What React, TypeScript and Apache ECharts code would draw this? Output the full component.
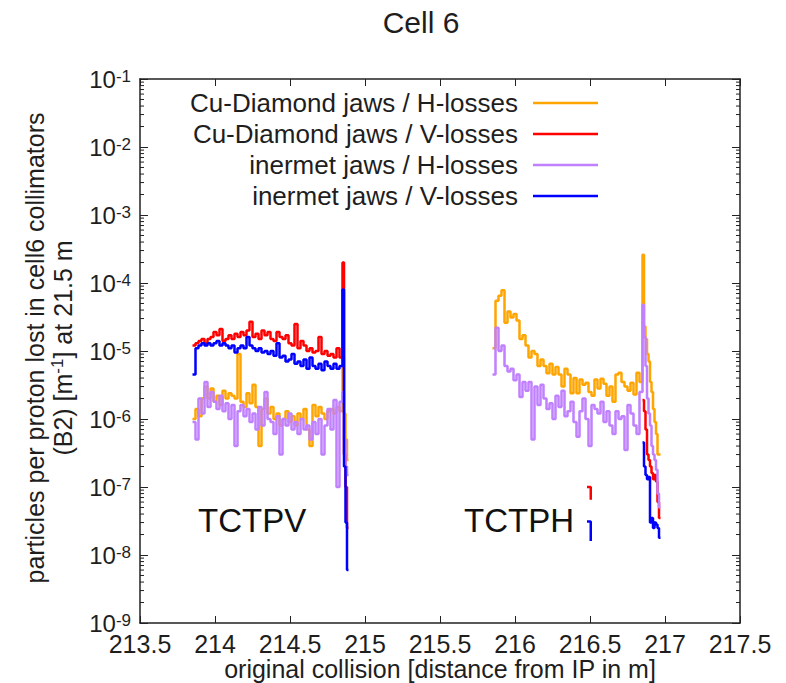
import React, { useEffect, useRef } from 'react';
import * as echarts from 'echarts';

// ---- Data ----
const SERIES_NAMES = [
  'Cu-Diamond jaws / H-losses',
  'Cu-Diamond jaws / V-losses',
  'inermet jaws / H-losses',
  'inermet jaws / V-losses',
];
const SERIES_COLORS = ['#ffa500', '#ff0000', '#c080ff', '#0000ff'];

const BIN = 0.02;
const TCTPV_START = 213.85;
const TCTPH_START = 215.85;
const TCTPV_TAIL_X = [214.85, 214.86, 214.87, 214.88];
const TCTPV_TAIL_END = 214.89;
const TCTPH_TAIL_X = [216.85, 216.86, 216.87, 216.88, 216.89, 216.9, 216.91, 216.92, 216.93, 216.94, 216.95, 216.96];
const TCTPH_TAIL_END = 216.97;
const STRAY_X = [216.48, 216.505];

const X_TICKS = [213.5, 214, 214.5, 215, 215.5, 216, 216.5, 217, 217.5];

// Cu-Diamond jaws / H-losses
const cuH_tctpv = [
  1.0e-6, 1.4e-6, 1.1e-6, 2.0e-6, 3.0e-6, 2.0e-6, 2.8e-6, 1.8e-6, 2.2e-6, 1.6e-6,
  2.6e-6, 2.0e-6, 2.4e-6, 2.2e-6, 2.0e-6, 9.0e-6, 1.8e-6, 1.5e-6, 2.4e-6, 1.7e-6,
  3.2e-6, 1.5e-6, 4.0e-7, 1.4e-6, 2.0e-6, 1.2e-6, 1.5e-6, 1.0e-6, 1.2e-6, 8.0e-7,
  1.0e-6, 1.3e-6, 9.0e-7, 1.1e-6, 8.0e-7, 1.2e-6, 1.0e-6, 1.4e-6, 7.0e-7, 4.0e-7,
  1.6e-6, 1.1e-6, 1.5e-6, 1.2e-6, 1.0e-6, 1.3e-6, 1.4e-6, 1.2e-6, 1.5e-6, 1.3e-6,
];
const cuH_tctpv_tail = [8.0e-6, 1.2e-6, 5.0e-7, 2.5e-7];
const cuH_tctph = [
  1.1e-5, 5.5e-5, 6.5e-5, 7.8e-5, 2.6e-5, 3.8e-5, 3.1e-5, 3.5e-5, 2.8e-5, 1.5e-5,
  1.7e-5, 1.2e-5, 8.0e-6, 1.0e-5, 9.0e-6, 6.0e-6, 7.5e-6, 6.0e-6, 4.7e-6, 6.5e-6,
  4.5e-6, 5.8e-6, 4.5e-6, 3.0e-6, 5.5e-6, 4.5e-6, 2.4e-6, 4.0e-6, 2.4e-6, 3.8e-6,
  3.2e-6, 3.4e-6, 2.5e-6, 2.2e-6, 3.8e-6, 2.8e-6, 3.9e-6, 3.3e-6, 2.2e-6, 3.0e-6,
  1.8e-6, 4.5e-6, 4.8e-6, 3.5e-6, 3.0e-6, 2.6e-6, 3.4e-6, 2.3e-6, 4.8e-6, 3.5e-6,
];
const cuH_tctph_tail = [2.6e-4, 2.3e-5, 1.5e-5, 9.0e-6, 7.0e-6, 3.5e-6, 2.5e-6, 1.4e-6, 9.0e-7, 6.0e-7, 3.0e-7, 3.0e-7];

// Cu-Diamond jaws / V-losses
const cuV_tctpv = [
  1.2e-5, 1.3e-5, 1.4e-5, 1.5e-5, 1.3e-5, 1.5e-5, 1.6e-5, 1.9e-5, 1.7e-5, 2.1e-5,
  1.4e-5, 1.5e-5, 1.7e-5, 1.5e-5, 1.8e-5, 1.6e-5, 1.9e-5, 1.7e-5, 2.0e-5, 2.7e-5,
  1.6e-5, 1.8e-5, 1.5e-5, 2.0e-5, 1.7e-5, 1.9e-5, 1.5e-5, 1.4e-5, 1.9e-5, 1.6e-5,
  1.5e-5, 1.7e-5, 1.3e-5, 1.2e-5, 2.5e-5, 1.1e-5, 1.4e-5, 1.2e-5, 1.0e-5, 1.1e-5,
  9.5e-6, 1.0e-5, 1.6e-5, 9.0e-6, 1.0e-5, 8.5e-6, 9.0e-6, 8.0e-6, 1.1e-5, 8.0e-6,
];
const cuV_tctpv_tail = [2.0e-4, 3.0e-7, 1.0e-7, 2.5e-8];
const cuV_tctph_tail = [1.9e-6, 1.3e-6, 7.0e-7, 3.0e-7, 2.5e-7, 2.0e-7, 1.6e-7, 1.3e-7, 1.5e-7, 1.2e-7, 6.0e-8, 3.5e-8];
const cuV_stray = [1.0e-7, 6.5e-8];

// inermet jaws / H-losses
const inH_tctpv = [
  9.0e-7, 5.0e-7, 2.0e-6, 1.2e-6, 3.5e-6, 1.5e-6, 2.5e-6, 1.8e-6, 1.4e-6, 2.2e-6,
  1.3e-6, 1.7e-6, 1.0e-6, 1.6e-6, 4.0e-7, 1.3e-6, 1.6e-6, 1.1e-6, 1.4e-6, 9.0e-7,
  1.2e-6, 7.0e-7, 1.5e-6, 8.0e-7, 2.5e-6, 1.0e-6, 9.0e-7, 6.0e-7, 1.1e-6, 3.0e-7,
  1.0e-6, 8.0e-7, 1.2e-6, 7.0e-7, 9.0e-7, 6.0e-7, 1.0e-6, 7.0e-7, 8.0e-7, 5.0e-7,
  9.0e-7, 6.0e-7, 1.0e-6, 3.0e-7, 8.0e-7, 1.4e-6, 7.0e-7, 1.9e-6, 1.0e-7, 1.8e-6,
];
const inH_tctpv_tail = [2.5e-6, 5.0e-7, 2.0e-7, 1.5e-7];
const inH_tctph = [
  4.5e-6, 2.2e-5, 1.0e-5, 1.2e-5, 6.0e-6, 5.0e-6, 5.5e-6, 3.7e-6, 4.5e-6, 2.1e-6,
  3.5e-6, 2.6e-6, 3.5e-6, 5.0e-7, 3.0e-6, 1.6e-6, 3.2e-6, 2.0e-6, 1.4e-6, 1.7e-6,
  1.0e-6, 2.2e-6, 1.5e-6, 2.6e-6, 1.1e-6, 1.3e-6, 1.8e-6, 9.0e-7, 5.5e-7, 1.3e-6,
  2.0e-6, 1.0e-6, 4.0e-7, 1.6e-6, 1.4e-6, 1.2e-6, 1.8e-6, 9.0e-7, 1.3e-6, 8.0e-7,
  6.0e-7, 1.3e-6, 1.0e-6, 1.1e-6, 3.5e-7, 1.6e-6, 1.2e-6, 8.0e-7, 6.0e-7, 2.5e-6,
];
const inH_tctph_tail = [4.8e-5, 1.6e-5, 6.0e-6, 2.0e-6, 1.2e-6, 8.0e-7, 4.0e-7, 3.0e-7, 2.5e-7, 1.8e-7, 8.0e-8, 5.0e-8];

// inermet jaws / V-losses
const inV_tctpv = [
  4.5e-6, 1.1e-5, 1.2e-5, 1.3e-5, 1.2e-5, 1.3e-5, 1.2e-5, 1.3e-5, 1.4e-5, 1.2e-5,
  1.3e-5, 1.2e-5, 1.1e-5, 1.2e-5, 9.5e-6, 1.1e-5, 1.2e-5, 1.1e-5, 1.6e-5, 1.2e-5,
  1.1e-5, 1.0e-5, 1.1e-5, 9.5e-6, 1.0e-5, 9.0e-6, 1.0e-5, 8.5e-6, 1.3e-5, 8.0e-6,
  8.5e-6, 7.0e-6, 7.5e-6, 9.0e-6, 6.5e-6, 7.0e-6, 6.0e-6, 7.5e-6, 5.5e-6, 8.0e-6,
  6.0e-6, 5.5e-6, 6.5e-6, 5.2e-6, 7.0e-6, 6.0e-6, 5.5e-6, 6.5e-6, 5.5e-6, 6.0e-6,
];
const inV_tctpv_tail = [8.0e-5, 2.0e-7, 3.0e-8, 6.0e-9];
const inV_tctph_tail = [4.5e-7, 2.0e-7, 1.5e-7, 1.3e-7, 1.4e-7, 3.0e-8, 3.5e-8, 2.5e-8, 3.0e-8, 2.8e-8, 2.5e-8, 1.8e-8];
const inV_stray = [3.1e-8, 1.6e-8];

// ---- helpers ----
const FONT = "'Liberation Sans', Arial, sans-serif";
const TXT = '#1e1e1e';

function binStarts(start: number, n: number): number[] {
  const out: number[] = [];
  for (let i = 0; i < n; i++) out.push(+(start + i * BIN).toFixed(4));
  return out;
}

// histogram-like step data: value v[i] holds from xs[i] to xs[i+1] (last to xEnd)
function stepData(xs: number[], vals: number[], xEnd: number): number[][] {
  const d = xs.map((x, i) => [x, vals[i]]);
  d.push([xEnd, vals[vals.length - 1]]);
  return d;
}
function pairData(xs: number[], vals: number[]): number[][] {
  return xs.map((x, i) => [x, vals[i]]);
}

export default function App() {
  const ref = useRef<HTMLDivElement>(null);
  useEffect(() => {
    if (!ref.current) return;
    const chart = echarts.init(ref.current, undefined, { renderer: 'svg' });

    const vx = binStarts(TCTPV_START, 50).concat(TCTPV_TAIL_X);
    const hx = binStarts(TCTPH_START, 50).concat(TCTPH_TAIL_X);

    const segments: { s: number; data: number[][] }[] = [
      { s: 0, data: stepData(vx, cuH_tctpv.concat(cuH_tctpv_tail), TCTPV_TAIL_END) },
      { s: 0, data: stepData(hx, cuH_tctph.concat(cuH_tctph_tail), TCTPH_TAIL_END) },
      { s: 1, data: stepData(vx, cuV_tctpv.concat(cuV_tctpv_tail), TCTPV_TAIL_END) },
      { s: 1, data: stepData(TCTPH_TAIL_X, cuV_tctph_tail, TCTPH_TAIL_END) },
      { s: 1, data: pairData(STRAY_X, cuV_stray) },
      { s: 2, data: stepData(vx, inH_tctpv.concat(inH_tctpv_tail), TCTPV_TAIL_END) },
      { s: 2, data: stepData(hx, inH_tctph.concat(inH_tctph_tail), TCTPH_TAIL_END) },
      { s: 3, data: stepData(vx, inV_tctpv.concat(inV_tctpv_tail), TCTPV_TAIL_END) },
      { s: 3, data: stepData(TCTPH_TAIL_X, inV_tctph_tail, TCTPH_TAIL_END) },
      { s: 3, data: pairData(STRAY_X, inV_stray) },
    ];

    const lineSeries = segments.map((seg) => ({
      type: 'line' as const,
      name: SERIES_NAMES[seg.s],
      step: 'end' as const,
      showSymbol: false,
      symbol: 'none',
      data: seg.data,
      lineStyle: { color: SERIES_COLORS[seg.s], width: 2.5 },
      itemStyle: { color: SERIES_COLORS[seg.s] },
      z: 2 + seg.s,
      silent: true,
    }));

    const minorTicks: number[][] = [];
    for (let k = -9; k < -1; k++) {
      for (let m = 2; m <= 9; m++) minorTicks.push([X_TICKS[0], m * Math.pow(10, k)]);
    }

    const axisLineStyle = { color: '#222', width: 1.5 };
    const xAxisBase = {
      type: 'value' as const,
      min: X_TICKS[0],
      max: X_TICKS[X_TICKS.length - 1],
      interval: 0.5,
      splitLine: { show: false },
      axisLine: { show: true, onZero: false, lineStyle: axisLineStyle },
      axisTick: { show: true, inside: true, length: 7, lineStyle: { color: '#222', width: 1 } },
    };
    const yAxisBase = {
      type: 'log' as const,
      logBase: 10,
      min: 1e-9,
      max: 1e-1,
      splitLine: { show: false },
      axisLine: { show: true, onZero: false, lineStyle: axisLineStyle },
      axisTick: { show: true, inside: true, length: 8, lineStyle: { color: '#222', width: 1 } },
    };

    const legendRowsY = [103, 134, 165, 196];
    const legendGraphics: any[] = [];
    SERIES_NAMES.forEach((n, i) => {
      legendGraphics.push({
        type: 'text',
        x: 518,
        y: legendRowsY[i],
        style: { text: n, fontSize: 26, fontFamily: FONT, fill: TXT, align: 'right', verticalAlign: 'middle' },
      });
      legendGraphics.push({
        type: 'line',
        shape: { x1: 533, y1: legendRowsY[i], x2: 598, y2: legendRowsY[i] },
        style: { stroke: SERIES_COLORS[i], lineWidth: 2.5 },
      });
    });

    chart.setOption({
      animation: false,
      backgroundColor: '#ffffff',
      grid: { left: 140, right: 46, top: 79, bottom: 60, containLabel: false },
      xAxis: [
        {
          ...xAxisBase,
          position: 'bottom',
          axisLabel: { show: true, fontSize: 25, fontFamily: FONT, color: TXT, margin: 8 },
        },
        { ...xAxisBase, position: 'top', axisLabel: { show: false } },
      ],
      yAxis: [
        {
          ...yAxisBase,
          position: 'left',
          axisLabel: {
            show: true,
            margin: 9,
            fontFamily: FONT,
            fontSize: 24,
            lineHeight: 22,
            color: TXT,
            formatter: (v: number) => '10{sup|' + Math.round(Math.log10(v)) + '}',
            rich: {
              sup: { fontSize: 17, fontFamily: FONT, color: TXT, verticalAlign: 'top', lineHeight: 12 },
            },
          },
        },
        { ...yAxisBase, position: 'right', axisLabel: { show: false } },
      ],
      series: [
        ...lineSeries,
        {
          type: 'custom',
          name: 'minorTicks',
          silent: true,
          data: minorTicks,
          encode: { x: 0, y: 1 },
          renderItem: (params: any, api: any) => {
            const pt = api.coord([api.value(0), api.value(1)]);
            const cs = params.coordSys;
            const y = pt[1];
            const st = { stroke: '#222', lineWidth: 1 };
            return {
              type: 'group',
              children: [
                { type: 'line', shape: { x1: cs.x, y1: y, x2: cs.x + 4, y2: y }, style: st },
                { type: 'line', shape: { x1: cs.x + cs.width - 4, y1: y, x2: cs.x + cs.width, y2: y }, style: st },
              ],
            };
          },
        },
      ],
      graphic: [
        {
          type: 'text',
          x: 421,
          y: 22,
          style: { text: 'Cell 6', fontSize: 30, fontFamily: FONT, fill: TXT, align: 'center', verticalAlign: 'middle' },
        },
        {
          type: 'text',
          x: 49,
          y: 348,
          rotation: Math.PI / 2,
          style: {
            text: 'particles per proton lost in cell6 collimators\n(B2) [m{sup|-1}] at 21.5 m',
            fontSize: 25,
            lineHeight: 28,
            fontFamily: FONT,
            fill: TXT,
            align: 'center',
            verticalAlign: 'middle',
            rich: { sup: { fontSize: 17, fontFamily: FONT, fill: TXT, verticalAlign: 'top', lineHeight: 14 } },
          },
        },
        {
          type: 'text',
          x: 440,
          y: 669,
          style: {
            text: 'original collision [distance from IP in m]',
            fontSize: 25,
            fontFamily: FONT,
            fill: TXT,
            align: 'center',
            verticalAlign: 'middle',
          },
        },
        {
          type: 'text',
          x: 198,
          y: 520,
          style: { text: 'TCTPV', fontSize: 33, fontFamily: FONT, fill: '#111', align: 'left', verticalAlign: 'middle' },
        },
        {
          type: 'text',
          x: 464,
          y: 520,
          style: { text: 'TCTPH', fontSize: 33, fontFamily: FONT, fill: '#111', align: 'left', verticalAlign: 'middle' },
        },
        ...legendGraphics,
      ],
    });
    return () => chart.dispose();
  }, []);
  return (
    <div
      ref={ref}
      style={{ position: 'fixed', left: 0, top: 0, width: 786, height: 683, background: '#fff' }}
    />
  );
}
